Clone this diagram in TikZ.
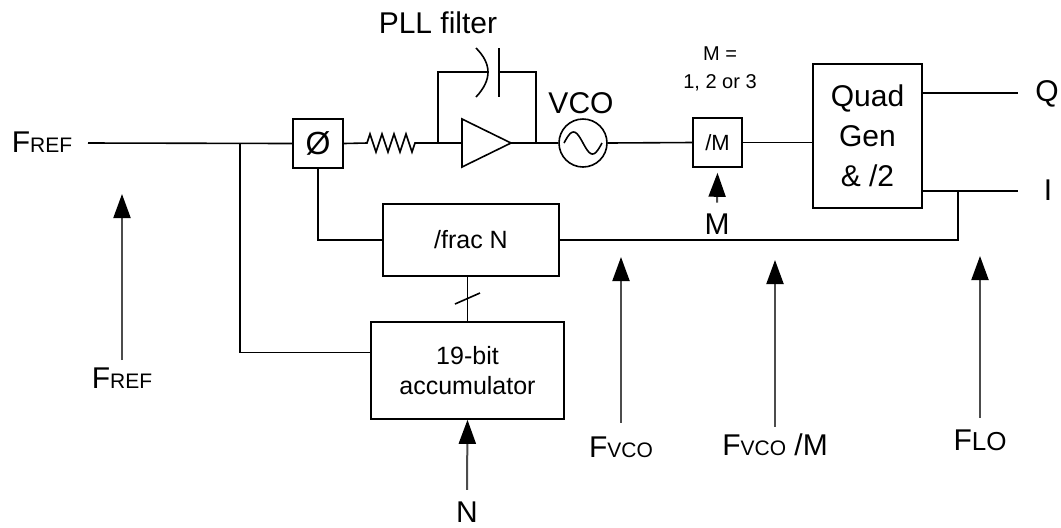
\documentclass[tikz,border=0pt]{standalone}
\usepackage{fontspec}
\setmainfont{Liberation Sans}
\usetikzlibrary{arrows.meta, positioning}
\newcommand{\indice}[1]{{\fontsize{10.5}{12}\selectfont #1}}

\begin{document}
\begin{tikzpicture}[x=0.5pt, y=-0.5pt, line width=0.8pt,
    bloco/.style={draw, inner sep=0pt, align=center},
    rotulo/.style={inner sep=3.33pt, font=\fontsize{15}{18}\selectfont},
    sinal/.style={-{Triangle[length=12pt,width=8.5pt,color=black]}, line width=1pt, draw=black!70},
  ]
  \useasboundingbox (0,0) rectangle (1061,527);

  % Blocos
  \node[bloco, minimum width=25pt, minimum height=24.5pt, font=\fontsize{16}{16}\selectfont] (fase) at (318,143.5) {Ø};
  \node[bloco, minimum width=24.5pt, minimum height=24.5pt, font=\fontsize{11}{11}\selectfont] (divM) at (717.5,142.5) {/M};
  \node[bloco, minimum width=54.5pt, minimum height=72pt, font=\fontsize{15}{20}\selectfont] (quad) at (867.5,136) {Quad\\Gen\\\& /2};
  \node[bloco, minimum width=88pt, minimum height=36pt, font=\fontsize{12.5}{15}\selectfont] (fracN) at (471,240) {/frac N};
  \node[bloco, minimum width=96.5pt, minimum height=48.5pt, font=\fontsize{12.5}{15}\selectfont] (acc) at (467.5,370.5) {19-bit\\accumulator};
  \node[draw, circle, minimum size=24pt, inner sep=0pt] (vco) at (583,143) {};

  % Rotulos
  \node[rotulo] (frefE) at (42,142) {F\indice{REF}};
  \node[rotulo] (pll) at (438,23) {PLL filter};
  \node[rotulo] (vcoL) at (581,103) {VCO};
  \node[rotulo, font=\fontsize{10}{14}\selectfont, align=center] (mval) at (720,69) {M =\\1, 2 or 3};
  \node[rotulo] (mL) at (717,224) {M};
  \node[rotulo] (qL) at (1047,94) {Q};
  \node[rotulo] (iL) at (1048,190) {I};
  \node[rotulo] (frefB) at (122,378) {F\indice{REF}};
  \node[rotulo, inner sep=1pt] (nL) at (467,512) {N};
  \node[rotulo] (fvco) at (621,447) {F\indice{VCO}};
  \node[rotulo] (fvcom) at (775,445) {F\indice{VCO} /M};
  \node[rotulo] (flo) at (980,440) {F{\fontsize{13}{14}\selectfont LO}};

  % Pontos
  \coordinate (entrada) at (88,143);
  \coordinate (ramo) at (240,143);
  \coordinate (r1) at (367,143);
  \coordinate (j1) at (438,143);
  \coordinate (j2) at (536,143);
  \coordinate (ampE) at (462,143);
  \coordinate (ampS) at (511,143);
  \coordinate (capE) at (488,72);
  \coordinate (capD) at (499,72);
  \coordinate (saidaQ) at (1018,93);
  \coordinate (saidaI) at (1018,191);
  \coordinate (tap) at (958,191);
  \coordinate (barra) at (468,298);

  % Caminho principal
  \draw (entrada) -- (fase.west);
  \draw (fase.east) -- (r1) -- ++(3,-9) -- ++(6,18) -- ++(6,-18) -- ++(6,18) -- ++(6,-18)
    -- ++(6,18) -- ++(6,-18) -- ++(6,18) -- ++(3,-9) -- (ampE);
  \draw (462,119) -- (ampS) -- (462,167) -- cycle;
  \draw (ampS) -- (vco.west);
  \draw plot[domain=-19:19, samples=40, smooth] ({583+\x}, {143+11*sin(\x*180/19)});
  \draw (vco.east) -- (divM.west);
  \draw (divM.east) -- (divM.east -| quad.west);

  % Filtro
  \draw (j1) |- (capE);
  \draw (476,48) .. controls (492,64) and (492,80) .. (476,97);
  \draw (499,48) -- (499,97);
  \draw (capD) -| (j2);

  % Saidas
  \draw (quad.east |- saidaQ) -- (saidaQ);
  \draw (quad.east |- saidaI) -- (saidaI);

  % Realimentacao
  \draw (tap) |- (fracN.east);
  \draw (fase.south) |- (fracN.west);
  \draw (acc.north) -- (acc.north |- fracN.south);
  \draw (barra) ++(-13,6) -- ++(25,-11);
  \draw (ramo) |- ([yshift=9pt]acc.west);

  % Setas
  \coordinate (pFref) at (frefB.north |- 0,194);
  \coordinate (pFvco) at (fvco.north |- 0,257);
  \coordinate (pFvcom) at (fvcom.north |- 0,260);
  \coordinate (pFlo) at (flo.north |- 0,256);
  \draw[sinal] (frefB.north) -- (pFref);
  \draw[sinal] ([yshift=3.3pt]fvco.north) -- (pFvco);
  \draw[sinal] (fvcom.north) -- (pFvcom);
  \draw[sinal] ([yshift=2.3pt]flo.north) -- (pFlo);
  \draw[sinal] ([yshift=4.5pt]nL.north) -- (acc.south);
  \draw[sinal] ([yshift=1.8pt]mL.north) -- ([yshift=-2.5pt]divM.south);

\end{tikzpicture}
\end{document}
